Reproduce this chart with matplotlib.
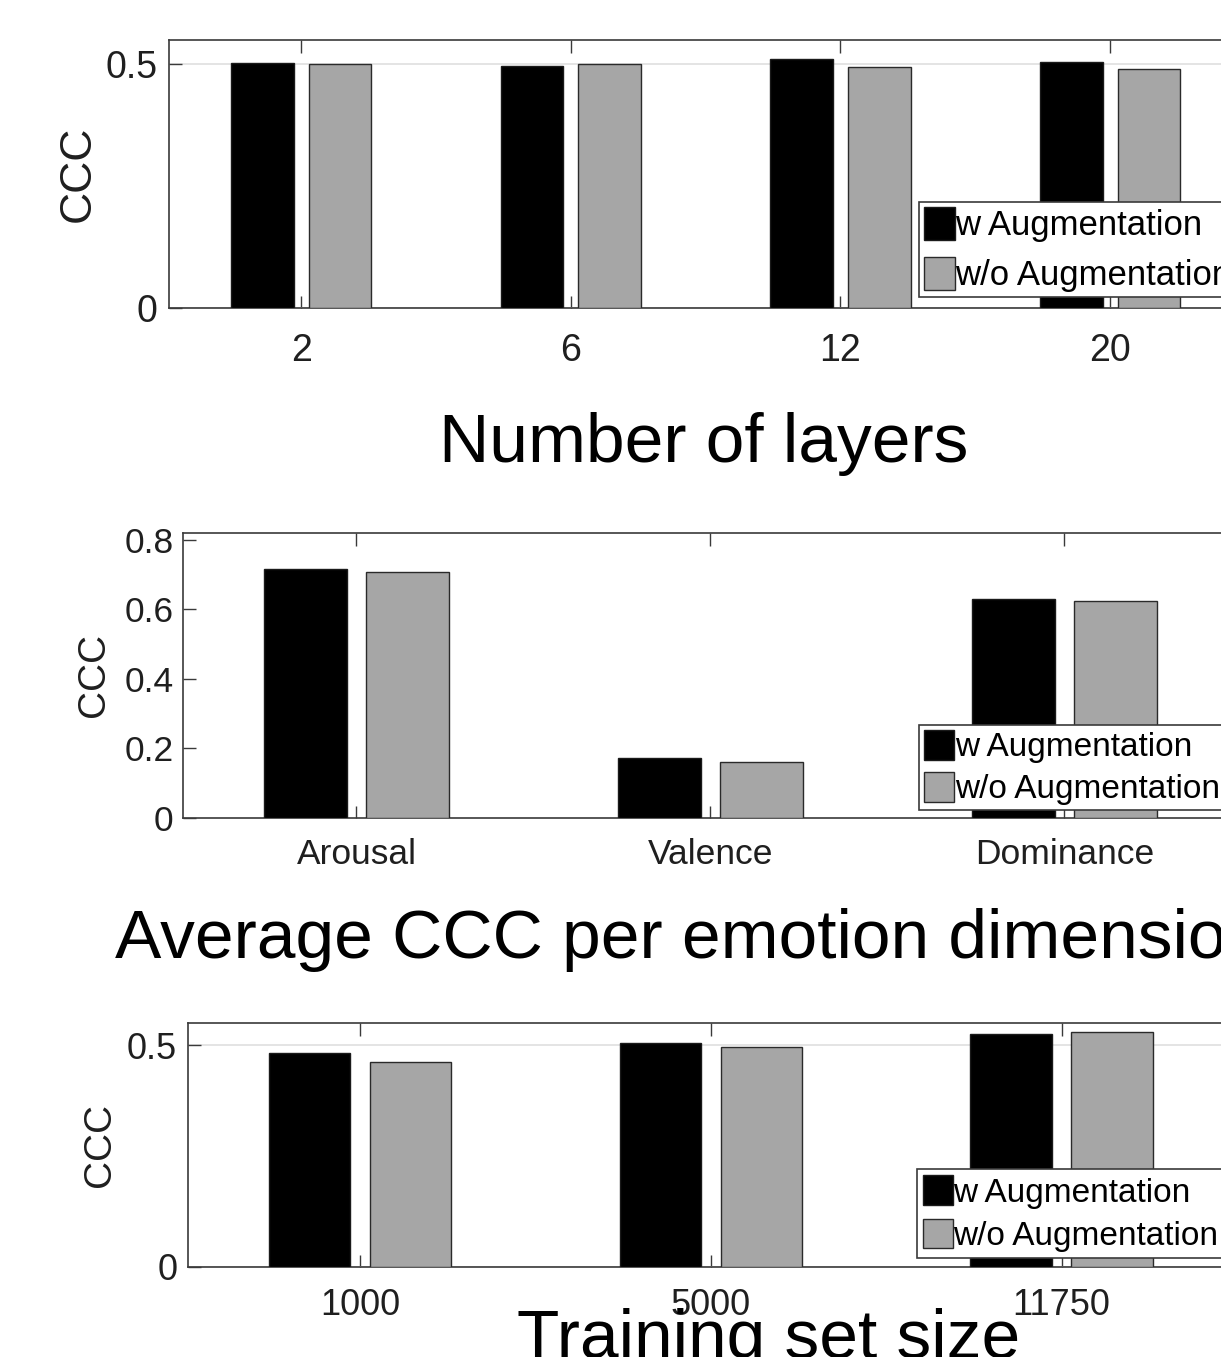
import matplotlib
matplotlib.use('Agg')
import matplotlib.pyplot as plt
from matplotlib.patches import Patch
import numpy as np

plt.rcParams['font.family'] = ['Liberation Sans', 'DejaVu Sans']

# ---------------- data ----------------
series_labels = ['w Augmentation', 'w/o Augmentation']
series_colors = ['#000000', '#a6a6a6']

layer_labels = ['2', '6', '12', '20']
layer_w = [0.503, 0.4965, 0.510, 0.505]
layer_wo = [0.500, 0.500, 0.495, 0.490]

dim_labels = ['Arousal', 'Valence', 'Dominance']
dim_w = [0.716, 0.171, 0.629]
dim_wo = [0.707, 0.160, 0.625]

size_labels = ['1000', '5000', '11750']
size_w = [0.483, 0.505, 0.525]
size_wo = [0.462, 0.496, 0.530]

titles = ['Number of layers', 'Average CCC per emotion dimension', 'Training set size']

# ---------------- layout helpers ----------------
W, H = 1221, 1357
fig = plt.figure(figsize=(W / 100, H / 100), dpi=100)
AXC = '#3a3a3a'
TXC = '#1f1f1f'


def rect_px(left, top, right, bottom):
    return [left / W, 1 - bottom / H, (right - left) / W, (bottom - top) / H]


def panel(rect, cats, w, wo, ylim, yticks, yticklabels, grid, tick_fs,
          xpad, ypad, ylab_x, ylab_fs, leg_xy, leg_fs, hl, hh, lsp, bpad):
    ax = fig.add_axes(rect)
    x = np.arange(1, len(cats) + 1)
    width, off = 0.232, 0.144
    ax.bar(x - off, w, width, color=series_colors[0], edgecolor='#1a1a1a',
           linewidth=1.0, zorder=3)
    ax.bar(x + off, wo, width, color=series_colors[1], edgecolor='#2a2a2a',
           linewidth=1.0, zorder=3)
    ax.set_xlim(0.51, len(cats) + 0.5)
    ax.set_ylim(*ylim)
    ax.set_xticks(x)
    ax.set_xticklabels(cats)
    ax.set_yticks(yticks)
    ax.set_yticklabels(yticklabels)
    ax.tick_params(axis='both', direction='in', length=9, width=1.0,
                   color=AXC, labelcolor=TXC, labelsize=tick_fs,
                   top=True, right=True)
    ax.tick_params(axis='x', pad=xpad)
    ax.tick_params(axis='y', pad=ypad)
    for s in ax.spines.values():
        s.set_color(AXC)
        s.set_linewidth(1.2)
    if grid:
        ax.yaxis.grid(True, color='#e2e2e2', linewidth=1.3)
        ax.set_axisbelow(True)
    ax.set_ylabel('CCC', fontsize=ylab_fs, color=TXC, ha='center', va='center')
    ax.yaxis.set_label_coords(ylab_x, rect[1] + rect[3] / 2, transform=fig.transFigure)
    handles = [Patch(facecolor=series_colors[0], edgecolor='#1a1a1a', linewidth=1.0),
               Patch(facecolor=series_colors[1], edgecolor='#2a2a2a', linewidth=1.0)]
    leg = ax.legend(handles, series_labels, loc='upper left',
                    bbox_to_anchor=(leg_xy[0] / W, 1 - leg_xy[1] / H),
                    bbox_transform=fig.transFigure, borderaxespad=0,
                    fancybox=False, framealpha=1, edgecolor=AXC,
                    fontsize=leg_fs, handlelength=hl, handleheight=hh,
                    handletextpad=0.02, borderpad=bpad, labelspacing=lsp)
    leg.get_frame().set_linewidth(1.2)
    return ax


# panel 1: number of layers
panel(rect_px(169, 40, 1245, 307.7), layer_labels, layer_w, layer_wo,
      (0, 0.55), [0, 0.5], ['0', '0.5'], True, 27,
      18, 8.5, 78.5 / W, 32, (919, 201.7), 25, 0.88, 1.08, 0.42, 0.15)

# panel 2: emotion dimensions
panel(rect_px(183, 533, 1241.5, 817.7), dim_labels, dim_w, dim_wo,
      (0, 0.82), [0, 0.2, 0.4, 0.6, 0.8], ['0', '0.2', '0.4', '0.6', '0.8'], False, 25.5,
      14.5, 7, 93.5 / W, 28, (919, 725), 24, 0.9, 1.0, 0.25, 0.15)

# panel 3: training set size
panel(rect_px(188.3, 1023.3, 1237, 1266.7), size_labels, size_w, size_wo,
      (0, 0.55), [0, 0.5], ['0', '0.5'], True, 26,
      15.5, 8, 100.5 / W, 28, (916.7, 1169.3), 24, 0.9, 1.0, 0.3, 0.18)

# section captions
fig.text(703.5 / W, 1 - 461.7 / H, titles[0], fontsize=50, color='black',
         ha='center', va='baseline')
fig.text(115 / W, 1 - 958 / H, titles[1], fontsize=50, color='black',
         ha='left', va='baseline')
fig.text(517 / W, 1 - 1358 / H, titles[2], fontsize=50, color='black',
         ha='left', va='baseline')

fig.savefig('out.png', dpi=100, facecolor='white')
